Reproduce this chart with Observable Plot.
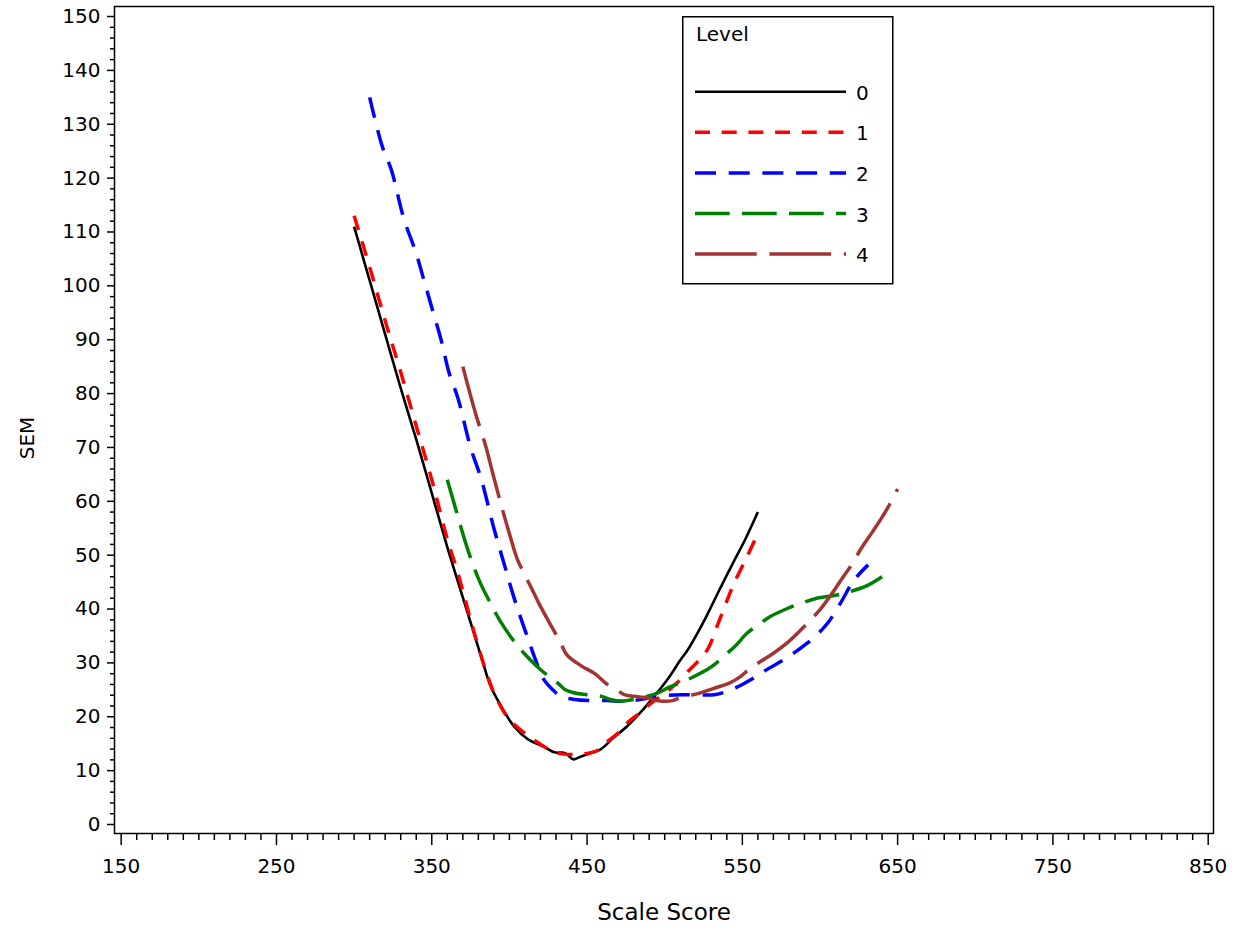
<!DOCTYPE html>
<html>
<head>
<meta charset="utf-8">
<script src="https://cdn.jsdelivr.net/npm/d3@7"></script>
<script src="https://cdn.jsdelivr.net/npm/@observablehq/plot@0.6"></script>
<style>
  html, body { margin: 0; padding: 0; background: #fff; }
  #wrap { position: relative; width: 1243px; height: 930px; }
  #legend { position: absolute; left: 682px; top: 16px; }
</style>
</head>
<body>
<div id="wrap"></div>
<script>
// ---- data ----
const levels = ["0", "1", "2", "3", "4"];
const colors = ["#000000", "#ff0000", "#0000ff", "#008000", "#a33434"];
const dashes = ["none", "15,11.7", "21,12.7", "34.7,12.3", "61.7,12.7"];
const widths = [2.6, 3.5, 3.5, 3.5, 3.5];

const level0Score = [300,310,320,330,340,350,360,368,375,382,388,395,403,412,422,429,435,438,441,446,454,459,467,476,485,493,502,510,515,522,528,536,545,552,560];
const level0Sem   = [111,101,91,81,71.5,61.5,51.5,44,37.5,31,25.6,21.8,18.2,15.8,14.5,13.4,13.3,12.8,12.1,12.6,13.4,14,16.1,18.3,21,23.7,27,30.5,32.5,36,39.3,44,49.1,53,58];

const level1Score = [300,310,320,330,340,350,360,367,375,380,386,392,400,412,425,432,440,450,457,463,470,476,483,489,495,502,508,515,522,528,534,540,545,553,560];
const level1Sem   = [113,103.5,93.5,84,74,64,53,46.5,38,33,27.5,23.2,19.5,16.5,14,13.2,13,13.2,13.8,15.4,17,18.9,20.5,22,23.3,24.8,26.3,28.4,30.5,32.7,37,41.5,45,49.7,54];

const level2Score = [310,318,324,332,340,345,350,356,361,367,375,382,390,397,402,407,412,416,422,428,433,442,452,463,472,480,490,502,515,532,540,550,558,566,575,584,592,600,605,613,622,631];
const level2Sem   = [135,126,121.5,112.5,106,101,96,90,84,79,70,64,55,48,43,38.6,34.5,31.2,27,25,23.8,23.2,23,23,22.9,23,23.5,24,24.1,24.1,24.7,26,27.3,28.8,30.3,32,33.7,35.8,37.4,41,45.4,48.2];

const level3Score = [360,365,370,375,381,388,394,403,410,418,424,431,436,442,450,459,465,472,480,489,496,503,510,517,525,532,539,545,553,561,568,579,589,598,611,620,630,640];
const level3Sem   = [64,59,54,49.5,45,41,37.8,34,31.6,29.3,27.8,26.3,25,24.4,24.1,23.8,23.2,22.9,23.2,23.8,24.5,25.5,26.3,27.2,28.4,29.7,31.5,33,35.5,37.2,38.6,40.1,41.2,42,42.6,43.3,44.3,46];

const level4Score = [370,378,385,389,395,400,405,410,414,420,429,433,437,446,455,463,470,474,480,489,495,500,505,510,520,532,542,549,555,563,570,580,590,600,608,615,621,626,633,639,645,650];
const level4Sem   = [85,76.5,70,65.5,59,54,49.3,46.3,44,40.5,35.8,33.7,31.5,29.5,28,26,24.8,24.1,23.8,23.5,23,22.9,23,23.5,24.2,25.3,26.3,27.5,29,30.5,31.8,34,36.8,39.9,43,46,48.5,51,54,56.6,59.5,62.3];

const xMajor = [150,250,350,450,550,650,750,850];
const yMajor = [0,10,20,30,40,50,60,70,80,90,100,110,120,130,140,150];

const xTitle = "Scale Score";
const yTitle = "SEM";
const legendTitle = "Level";

// ---- build tidy table ----
const scoreSets = [level0Score, level1Score, level2Score, level3Score, level4Score];
const semSets = [level0Sem, level1Sem, level2Sem, level3Sem, level4Sem];
const rows = levels.map((lv, i) => scoreSets[i].map((s, j) => ({level: lv, score: s, sem: semSets[i][j]})));

const xMinor = d3.range(150, 851, 10).filter(v => !xMajor.includes(v));
const yMinor = d3.range(0, 151, 2).filter(v => !yMajor.includes(v));

const font = "'DejaVu Sans', sans-serif";

const lineMarks = rows.map((data, i) => Plot.line(data, {
  x: "score", y: "sem",
  stroke: colors[i],
  strokeWidth: widths[i],
  strokeDasharray: dashes[i],
  strokeLinecap: "butt",
  strokeLinejoin: "round",
  curve: "catmull-rom"
}));

const chart = Plot.plot({
  width: 1243,
  height: 930,
  marginLeft: 114,
  marginRight: 30,
  marginTop: 6,
  marginBottom: 97,
  style: {fontFamily: font, fontSize: "20px", background: "#fff", color: "#000", overflow: "visible"},
  x: {domain: [145.69, 853.41]},
  y: {domain: [-1.67, 151.86]},
  marks: [
    ...lineMarks,
    Plot.frame({stroke: "#000", strokeWidth: 1.5}),
    Plot.axisX({ticks: xMajor, tickSize: 12, tickPadding: 13, label: null, strokeWidth: 1.5, fontSize: 20, tickFormat: d => String(d)}),
    Plot.axisX({ticks: xMinor, tickSize: 7, label: null, strokeWidth: 1.5, tickFormat: () => ""}),
    Plot.axisY({ticks: yMajor, tickSize: 7, tickPadding: 7, label: null, strokeWidth: 1.5, fontSize: 20, tickFormat: d => String(d)}),
    Plot.axisY({ticks: yMinor, tickSize: 4, label: null, strokeWidth: 1.5, tickFormat: () => ""}),
    Plot.text([xTitle], {text: d => d, frameAnchor: "bottom", dy: 79, textAnchor: "middle", lineAnchor: "middle", fontSize: 23}),
    Plot.text([yTitle], {text: d => d, frameAnchor: "left", dx: -87, dy: 18, rotate: -90, textAnchor: "middle", lineAnchor: "middle", fontSize: 20})
  ]
});

const wrap = document.getElementById("wrap");
wrap.appendChild(chart);

// ---- legend (inside plot area, top-right of curves) ----
const lg = d3.select(wrap).append("svg")
  .attr("id", "legend")
  .attr("width", 212).attr("height", 270)
  .style("font-family", font).style("font-size", "20px");
lg.append("rect").attr("x", 0.75).attr("y", 0.75).attr("width", 210).attr("height", 267)
  .attr("fill", "#fff").attr("stroke", "#000").attr("stroke-width", 1.5);
lg.append("text").attr("x", 14).attr("y", 18).attr("dominant-baseline", "central").text(legendTitle);
levels.forEach((lv, i) => {
  const y = 75.7 + i * 40.6;
  lg.append("line").attr("x1", 13).attr("x2", 164).attr("y1", y).attr("y2", y)
    .attr("stroke", colors[i]).attr("stroke-width", widths[i])
    .attr("stroke-dasharray", dashes[i]).attr("stroke-linecap", "butt");
  lg.append("text").attr("x", 174).attr("y", y + 1).attr("dominant-baseline", "central").text(lv);
});
</script>
</body>
</html>
